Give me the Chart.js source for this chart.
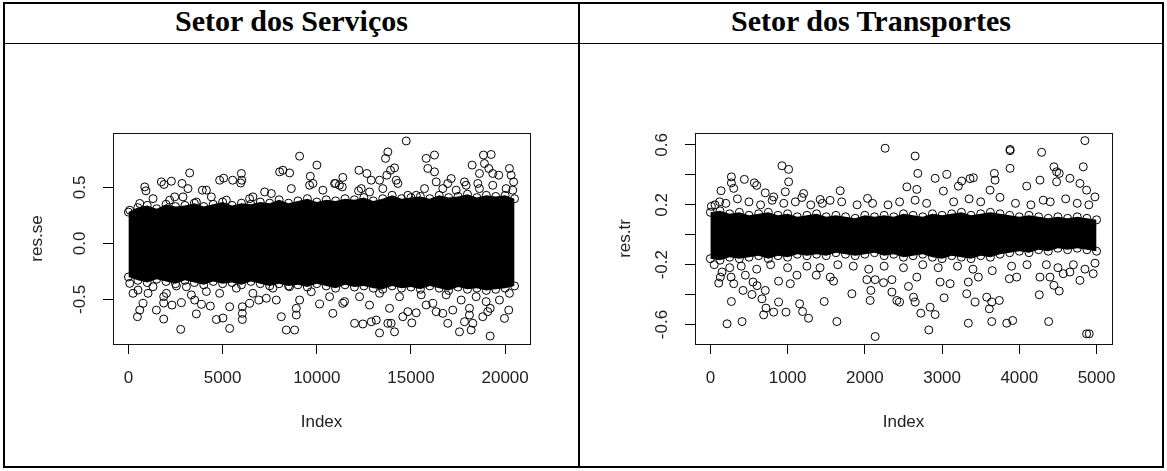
<!DOCTYPE html>
<html>
<head>
<meta charset="utf-8">
<script src="https://cdn.jsdelivr.net/npm/chart.js@4/dist/chart.umd.min.js"></script>
<style>
  html, body { margin: 0; padding: 0; background: #fff; }
  #page { position: relative; width: 1167px; height: 471px; overflow: hidden; }
  .line { position: absolute; background: #000; }
  .head {
    position: absolute; top: 4px; height: 39px; line-height: 39px;
    text-align: center; font: bold 30px "Liberation Serif", "Times New Roman", serif; color: #000;
  }
  canvas { position: absolute; }
</style>
</head>
<body>
<div id="page">
  <!-- table frame -->
  <div class="line" style="left:3px; top:2px; width:1161px; height:2px"></div>
  <div class="line" style="left:3px; top:466px; width:1161px; height:2px"></div>
  <div class="line" style="left:3px; top:2px; width:2px; height:466px"></div>
  <div class="line" style="left:1162px; top:2px; width:2px; height:466px"></div>
  <div class="line" style="left:578px; top:2px; width:2px; height:466px"></div>
  <div class="line" style="left:3px; top:43px; width:1161px; height:1px"></div>

  <div class="head" style="left:5px; width:573px">Setor dos Serviços</div>
  <div class="head" style="left:580px; width:582px">Setor dos Transportes</div>

  <canvas id="se" width="573" height="420" style="left:5px; top:50px"></canvas>
  <canvas id="tr" width="580" height="420" style="left:581px; top:50px"></canvas>
</div>

<script>
// ---- Serviços: residuals by index ----
// dense core of the cloud (upper / lower edge per index bin)
const seBandIdx = [0,500,1000,1500,2000,2500,3000,3500,4000,4500,5000,5500,6000,6500,7000,7500,8000,8500,9000,9500,
  10000,10500,11000,11500,12000,12500,13000,13500,14000,14500,15000,15500,16000,16500,17000,17500,18000,18500,19000,19500,20000,20500]
const seBandHi = [0.28,0.32,0.34,0.31,0.35,0.33,0.34,0.36,0.33,0.35,0.37,0.34,0.36,0.35,0.37,0.36,
  0.39,0.36,0.38,0.40,0.37,0.39,0.38,0.40,0.39,0.41,0.38,0.40,
  0.43,0.40,0.41,0.42,0.40,0.43,0.41,0.42,0.44,0.41,0.43,0.42,0.43,0.40]
const seBandLo = [-0.30,-0.33,-0.35,-0.32,-0.34,-0.36,-0.33,-0.35,-0.37,-0.34,-0.36,-0.35,-0.37,-0.34,-0.36,-0.38,
  -0.36,-0.38,-0.37,-0.39,-0.36,-0.38,-0.40,-0.37,-0.39,-0.38,-0.40,-0.41,
  -0.38,-0.40,-0.39,-0.41,-0.38,-0.40,-0.42,-0.39,-0.41,-0.40,-0.42,-0.41,-0.40,-0.38]
// points outside the core
const seOutliers = [
  [3252,0.63],[5995,0.625],[6020,0.565],[5960,0.54],[2280,0.556],[1750,0.55],[2845,0.536],[865,0.505],[930,0.47],
  [4843,0.565],[5057,0.583],[5533,0.565],[3925,0.476],[4138,0.476],[2456,0.416],[3162,0.49],[1889,0.527],[6435,0.40],
  [7586,0.446],[8026,0.64],[14748,0.916],[9088,0.78],[10005,0.70],[8202,0.654],[8557,0.63],[13772,0.818],[13650,0.76],
  [14127,0.675],[13915,0.654],[13719,0.61],[13331,0.565],[12236,0.654],[12658,0.625],[12891,0.565],[11385,0.59],
  [9655,0.60],[9793,0.536],[10998,0.536],[11200,0.52],[15809,0.76],[16249,0.79],[15894,0.67],[16249,0.64],[17135,0.58],
  [16955,0.536],[18249,0.70],[18849,0.79],[19257,0.795],[18902,0.714],[19131,0.67],[19343,0.625],[19661,0.61],
  [18637,0.625],[18549,0.536],[20228,0.67],[20318,0.61],[20450,0.55],[17841,0.55],[14835,0.43],[15279,0.43],
  [14305,0.536],[12218,0.47],
  [8647,0.49],[9618,0.52],[10323,0.476],[10944,0.536],[11353,0.505],[12360,0.49],[12801,0.46],[13507,0.49],[14217,0.565],
  [15719,0.49],[16340,0.55],[16690,0.49],[17401,0.476],[17931,0.52],[18637,0.49],[19343,0.52],[20053,0.49],[20403,0.476],
  [70,0.297],[600,0.357],[1305,0.40],[2191,0.387],[2897,0.416],[3607,0.37],[4403,0.416],[5199,0.387],[6610,0.416],[7231,0.46],
  [477,-0.655],[600,-0.596],[775,-0.536],[510,-0.417],[1040,-0.446],[1485,-0.596],[1873,-0.676],[1873,-0.533],[1873,-0.476],
  [2313,-0.551],[2811,-0.53],[2775,-0.768],[3607,-0.63],[3342,-0.46],[3517,-0.506],[3873,-0.545],[4350,-0.56],[4668,-0.68],
  [5019,-0.667],[5374,-0.76],[5374,-0.566],[6048,-0.566],[6048,-0.625],[6048,-0.68],[6435,-0.536],[6930,-0.506],
  [7321,-0.49],[7851,-0.506],
  [19204,-0.828],[17576,-0.79],[18196,-0.774],[17841,-0.70],[18284,-0.714],[16955,-0.714],[17220,-0.596],[18106,-0.58],
  [18106,-0.64],[18812,-0.655],[19077,-0.61],[19204,-0.58],[19963,-0.67],[20191,-0.596],[14127,-0.79],[13772,-0.714],
  [13949,-0.714],[13331,-0.80],[12891,-0.70],[13156,-0.685],[12005,-0.714],[12446,-0.72],[13862,-0.58],[14568,-0.655],
  [14835,-0.61],[15045,-0.71],[15279,-0.62],[15809,-0.55],[16340,-0.61],[16690,-0.625],[10854,-0.625],[10148,-0.542],
  [8382,-0.774],[8822,-0.774],[8912,-0.58],[8912,-0.64],[8117,-0.655],[11475,-0.52],
  [8557,-0.387],[9088,-0.506],[9708,-0.432],[10679,-0.476],[11385,-0.536],[12271,-0.476],[12801,-0.551],[13331,-0.446],
  [14393,-0.476],[15544,-0.46],[16159,-0.536],[16870,-0.46],[17666,-0.506],[18461,-0.476],[18991,-0.52],[19698,-0.506],
  [20228,-0.446],[70,-0.357],[245,-0.446],[1305,-0.387],[2016,-0.446],[2546,-0.38],[3077,-0.387],[4138,-0.43],
  [4843,-0.446],[5729,-0.40],[6610,-0.446],[7671,-0.40]
]
const seXTicks = [0, 5000, 10000, 15000, 20000]
const seYTicks = [-0.5, 0, 0.5]
const seYLabels = [-0.5, 0, 0.5]
const seXRange = [-819, 21320]
const seYRange = [-0.899, 0.987]

// ---- Transportes: residuals by index ----
const trBandIdx = [0,125,250,375,500,625,750,875,1000,1125,1250,1375,1500,1625,1750,1875,2000,2125,2250,2375,2500,
  2625,2750,2875,3000,3125,3250,3375,3500,3625,3750,3875,4000,4125,4250,4375,4500,4625,4750,4875,5000]
const trBandHi = [0.15,0.16,0.14,0.15,0.13,0.14,0.15,0.13,0.14,0.12,0.13,0.14,0.12,0.13,0.12,0.11,0.13,0.12,0.13,0.12,
  0.14,0.13,0.12,0.14,0.13,0.14,0.15,0.13,0.14,0.15,0.14,0.13,0.12,0.13,0.12,0.11,0.12,0.11,0.12,0.11,0.10]
const trBandLo = [-0.16,-0.17,-0.15,-0.16,-0.15,-0.14,-0.16,-0.14,-0.15,-0.13,-0.14,-0.13,-0.14,-0.12,-0.13,-0.14,-0.13,-0.12,-0.14,-0.13,
  -0.15,-0.14,-0.13,-0.15,-0.16,-0.14,-0.15,-0.16,-0.14,-0.15,-0.13,-0.12,-0.11,-0.12,-0.10,-0.11,-0.09,-0.10,-0.09,-0.10,-0.11]
const trOutliers = [
  [927,0.461],[1013,0.437],[1013,0.354],[272,0.387],[272,0.347],[440,0.37],[569,0.347],[600,0.33],[138,0.294],[302,0.31],
  [970,0.287],[1681,0.294],[1207,0.276],[1185,0.249],[711,0.28],[819,0.253],[13,0.19],[120,0.22],[1422,0.236],[1550,0.23],
  [4849,0.629],[2263,0.578],[2651,0.526],[3880,0.562],[3880,0.57],[4289,0.551],[3880,0.444],[4828,0.454],[4448,0.454],
  [4483,0.421],[4517,0.41],[2686,0.41],[3061,0.403],[2910,0.377],[3405,0.381],[3362,0.375],[3254,0.359],[3211,0.325],
  [3677,0.41],[3686,0.365],[3621,0.298],[4096,0.325],[4267,0.365],[4655,0.377],[4785,0.343],[4871,0.298],[4979,0.253],
  [4483,0.354],[2544,0.32],[2673,0.303],[3017,0.292],[2651,0.231],[2035,0.243],[4310,0.231],
  [60,0.2],[200,0.21],[350,0.24],[500,0.22],[650,0.2],[800,0.23],[950,0.21],[1100,0.22],[1300,0.2],[1450,0.21],[1700,0.22],
  [1900,0.2],[2100,0.21],[2300,0.2],[2450,0.22],[2800,0.21],[3150,0.22],[3350,0.24],[3500,0.22],[3750,0.25],[3950,0.21],
  [4150,0.2],[4400,0.22],[4600,0.24],[4750,0.21],[4900,0.2],
  [216,-0.595],[410,-0.58],[690,-0.535],[720,-0.49],[819,-0.517],[883,-0.45],[979,-0.517],[1271,-0.558],[1194,-0.513],
  [1155,-0.461],[1638,-0.58],[1474,-0.446],[1832,-0.394],[272,-0.446],[423,-0.372],[539,-0.399],[552,-0.316],[604,-0.34],
  [711,-0.372],[668,-0.428],[302,-0.327],[268,-0.283],[129,-0.283],[108,-0.323],[151,-0.249],[453,-0.27],[883,-0.31],
  [1035,-0.327],[1121,-0.27],[1371,-0.27],[1552,-0.283],[1595,-0.31],
  [2134,-0.68],[2828,-0.636],[3340,-0.591],[3643,-0.58],[3837,-0.591],[3914,-0.573],[4380,-0.58],[4871,-0.662],[4905,-0.662],
  [2725,-0.524],[2845,-0.484],[2910,-0.533],[3612,-0.495],[3643,-0.45],[3741,-0.439],[3578,-0.417],[2651,-0.45],[2630,-0.417],
  [2350,-0.383],[2414,-0.439],[2449,-0.45],[2078,-0.372],[2069,-0.439],[2565,-0.345],[3026,-0.421],[3319,-0.394],[3427,-0.45],
  [4259,-0.401],[4448,-0.338],[4517,-0.376],[4655,-0.249],[4785,-0.305],[4957,-0.26],[2026,-0.30],[2134,-0.30],[2242,-0.32],
  [2350,-0.30],[2673,-0.283],[3104,-0.327],[2975,-0.316],[3871,-0.294],[3966,-0.283],[3470,-0.283],[3340,-0.316],
  [4267,-0.283],[4397,-0.283],[4569,-0.26],
  [50,-0.2],[250,-0.22],[400,-0.21],[600,-0.23],[780,-0.2],[1000,-0.22],[1250,-0.21],[1420,-0.22],[1650,-0.2],[1850,-0.21],
  [2050,-0.23],[2250,-0.21],[2500,-0.22],[2750,-0.2],[2950,-0.22],[3200,-0.21],[3400,-0.23],[3650,-0.24],[3900,-0.21],
  [4100,-0.2],[4350,-0.2],[4500,-0.22],[4700,-0.2],[4850,-0.23],[4980,-0.19]
]
const trXTicks = [0, 1000, 2000, 3000, 4000, 5000]
const trYTicks = [-0.6, -0.4, -0.2, 0, 0.2, 0.4, 0.6]
const trYLabels = [-0.6, -0.2, 0.2, 0.6]
const trXRange = [-199, 5200]
const trYRange = [-0.73, 0.68]

Chart.defaults.font.family = '"Liberation Sans", Arial, sans-serif'
Chart.defaults.font.size = 17
Chart.defaults.color = '#222'

// R-style frame around the plotting region
const plotBox = {
  id: 'plotBox',
  afterDraw(chart) {
    const { ctx, chartArea: a } = chart
    ctx.save()
    ctx.strokeStyle = '#111'
    ctx.lineWidth = 1
    ctx.strokeRect(Math.round(a.left) + 0.5, Math.round(a.top) + 0.5,
      Math.round(a.right - a.left), Math.round(a.bottom - a.top))
    ctx.restore()
  }
}

const circle = {
  pointStyle: 'circle',
  pointRadius: 4,
  pointHoverRadius: 4,
  pointBorderWidth: 1,
  pointBorderColor: '#000',
  pointBackgroundColor: 'rgba(0,0,0,0)'
}

function residualPlot(id, p) {
  const toPts = (xs, ys) => xs.map((x, i) => ({ x, y: ys[i] }))
  new Chart(document.getElementById(id), {
    type: 'scatter',
    data: {
      datasets: [
        { ...circle, data: p.outliers.map(([x, y]) => ({ x, y })) },
        { ...circle, data: toPts(p.bandIdx, p.bandHi), showLine: true, borderWidth: 0,
          fill: '+1', backgroundColor: '#000' },
        { ...circle, data: toPts(p.bandIdx, p.bandLo), showLine: true, borderWidth: 0, fill: false }
      ]
    },
    options: {
      responsive: false,
      animation: false,
      devicePixelRatio: 1,
      layout: { padding: p.pad },
      plugins: { legend: { display: false }, tooltip: { enabled: false } },
      scales: {
        x: {
          type: 'linear', min: p.xRange[0], max: p.xRange[1],
          afterBuildTicks: s => { s.ticks = p.xTicks.map(v => ({ value: v })) },
          afterFit: s => { s.height = 95 },
          grid: { drawOnChartArea: false, drawTicks: true, tickLength: 10, color: '#000' },
          border: { display: false },
          ticks: { autoSkip: false, maxRotation: 0, padding: 14, color: '#222', callback: v => String(v) },
          title: { display: true, text: 'Index', color: '#222', padding: { top: 0, bottom: 6 } }
        },
        y: {
          type: 'linear', min: p.yRange[0], max: p.yRange[1],
          afterBuildTicks: s => { s.ticks = p.yTicks.map(v => ({ value: v })) },
          afterFit: s => { s.width = p.yWidth },
          grid: { drawOnChartArea: false, drawTicks: true, tickLength: 10, color: '#000' },
          border: { display: false },
          ticks: {
            autoSkip: false, minRotation: 90, maxRotation: 90, crossAlign: 'center', padding: 8.4, color: '#222',
            callback: v => p.yLabels.some(l => Math.abs(l - v) < 1e-9) ? v.toFixed(1) : ''
          },
          title: { display: true, text: p.yTitle, color: '#222', padding: { top: p.yTitlePad, bottom: 0 } }
        }
      }
    },
    plugins: [plotBox]
  })
}

residualPlot('se', {
  bandIdx: seBandIdx, bandHi: seBandHi, bandLo: seBandLo, outliers: seOutliers,
  xTicks: seXTicks, yTicks: seYTicks, yLabels: seYLabels, xRange: seXRange, yRange: seYRange,
  yTitle: 'res.se', yWidth: 108, yTitlePad: 22,
  pad: { left: 0, top: 83, right: 48, bottom: 31 }
})

residualPlot('tr', {
  bandIdx: trBandIdx, bandHi: trBandHi, bandLo: trBandLo, outliers: trOutliers,
  xTicks: trXTicks, yTicks: trYTicks, yLabels: trYLabels, xRange: trXRange, yRange: trYRange,
  yTitle: 'res.tr', yWidth: 114, yTitlePad: 34,
  pad: { left: 0, top: 83, right: 49, bottom: 31 }
})
</script>
</body>
</html>
